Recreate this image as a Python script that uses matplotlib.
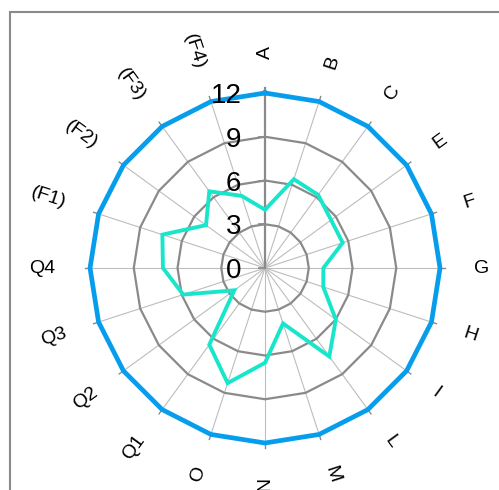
import numpy as np
import matplotlib
matplotlib.use("Agg")
import matplotlib.pyplot as plt
from matplotlib.patches import Rectangle

plt.rcParams['font.family'] = ['Liberation Sans', 'DejaVu Sans']

# Factor scores around the wheel, clockwise from the top
categories = ["A", "B", "C", "E", "F", "G", "H", "I", "L", "M",
              "N", "O", "Q1", "Q2", "Q3", "Q4", "(F1)", "(F2)", "(F3)", "(F4)"]
scores = [4.0, 6.4, 6.2, 5.6, 5.6, 4.0, 4.2, 6.0, 7.5, 4.0,
          6.5, 8.3, 6.5, 2.6, 5.9, 7.0, 7.4, 5.0, 6.5, 5.2]
ring_values = [3, 6, 9]
r_max = 12
tick_values = [0, 3, 6, 9, 12]

GRAY = "#8a8a8a"
SPOKE = "#bdbdbd"
BLUE = "#079ded"
TEAL = "#18e6cb"

fig = plt.figure(figsize=(4.99, 4.90), dpi=100)
ax = fig.add_axes([0.1804, 0.0959, 0.7014, 0.7143], projection="polar")
ax.set_theta_zero_location("N")
ax.set_theta_direction(-1)
ax.set_ylim(0, r_max)
ax.grid(False)
ax.spines["polar"].set_visible(False)
ax.set_xticks([])
ax.set_yticks([])
ax.patch.set_visible(False)

n = len(categories)
theta = np.linspace(0, 2 * np.pi, n, endpoint=False)
theta_closed = np.append(theta, theta[0])

# spokes
for i, t in enumerate(theta):
    if i == 0:
        continue
    ax.plot([t, t], [0, r_max], color=SPOKE, lw=0.8, clip_on=False, zorder=1)
    ax.plot([t, t], [r_max, r_max * 1.03], color=GRAY, lw=1.0, clip_on=False, zorder=1)
# main radial axis
ax.plot([0, 0], [0, r_max * 1.03], color=GRAY, lw=1.6, clip_on=False, zorder=2)
ax.plot([0] * len(tick_values), tick_values, ls="none", marker=0, ms=5,
        mew=1.2, color=GRAY, clip_on=False, zorder=2)

# polygon rings
for rv in ring_values:
    ax.plot(theta_closed, [rv] * (n + 1), color=GRAY, lw=1.6, clip_on=False, zorder=2)
ax.plot(theta_closed, [r_max] * (n + 1), color=BLUE, lw=3.4, clip_on=False, zorder=3)

# data
sc = np.append(scores, scores[0])
ax.plot(theta_closed, sc, color=TEAL, lw=2.8, clip_on=False, zorder=4,
        solid_joinstyle="miter")

# radial tick labels
for v in tick_values:
    ax.annotate(str(v), xy=(0, v), xytext=(-17, 0), textcoords="offset points",
                ha="right", va="center_baseline", fontsize=20, color="black", zorder=5)

# category labels, oriented along the spokes
for i, (t, lab) in enumerate(zip(theta, categories)):
    rot = 90 - np.degrees(t)
    flipped = False
    while rot <= -90:
        rot += 180
        flipped = True
    ax.text(t, 14.35, lab, rotation=rot, rotation_mode="anchor",
            ha="right" if flipped else "left", va="center",
            fontsize=14, color="black")

# outer frame
fig.patches.append(Rectangle((9.5 / 499, -0.5), 1.5, 0.9765 + 0.5,
                             transform=fig.transFigure, fill=False,
                             edgecolor=GRAY, lw=1.5))

fig.savefig("out.png", dpi=100)
